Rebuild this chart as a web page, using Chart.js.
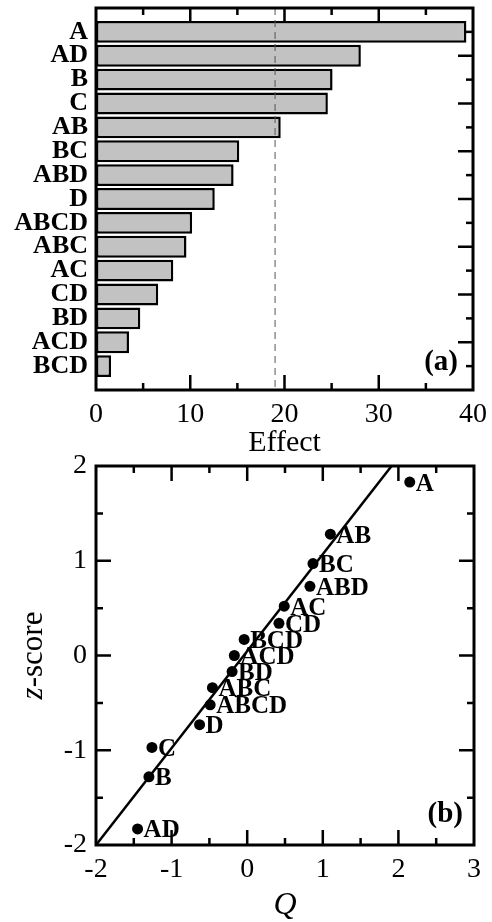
<!DOCTYPE html>
<html>
<head>
<meta charset="utf-8">
<script src="https://cdn.jsdelivr.net/npm/chart.js@4/dist/chart.umd.min.js"></script>
<style>
  html, body { margin: 0; padding: 0; background: #fff; }
  .box { position: absolute; left: 0; width: 492px; }
  #top { top: 0; height: 460px; }
  #bottom { top: 440px; height: 482px; }
</style>
</head>
<body>
<div class="box" id="top"><canvas id="effects"></canvas></div>
<div class="box" id="bottom"><canvas id="normal"></canvas></div>
<script>
// (a) effect sizes, largest first
const effectNames = ['A', 'AD', 'B', 'C', 'AB', 'BC', 'ABD', 'D', 'ABCD', 'ABC', 'AC', 'CD', 'BD', 'ACD', 'BCD']
const effectValues = [39.3, 28.1, 25.1, 24.6, 19.6, 15.2, 14.6, 12.6, 10.2, 9.6, 8.2, 6.6, 4.7, 3.5, 1.6]
const threshold = 19

// (b) normal probability plot
const pointNames = ['A', 'AB', 'BC', 'ABD', 'AC', 'CD', 'BCD', 'ACD', 'BD', 'ABC', 'ABCD', 'D', 'C', 'B', 'AD']
const qValues = [2.15, 1.10, 0.87, 0.83, 0.49, 0.42, -0.04, -0.17, -0.20, -0.46, -0.49, -0.63, -1.26, -1.30, -1.45]
const zScores = [1.83, 1.28, 0.97, 0.73, 0.52, 0.34, 0.17, 0, -0.17, -0.34, -0.52, -0.73, -0.97, -1.28, -1.83]
const fitQ = [-2, 1.91]
const fitZ = [-2, 2]

const serif = 'Liberation Serif'
const tickFont = { family: serif, size: 28 }

// inward tick marks, drawn from the chart's own scales
const drawTicks = (chart, cfg) => {
  const { ctx, chartArea: a, scales } = chart
  ctx.save()
  ctx.strokeStyle = '#000'
  ctx.lineWidth = 2.5
  cfg.forEach(({ id, major, minor, sides }) => {
    const s = scales[id]
    for (let v = s.min + minor; v < s.max - 1e-9; v += minor) {
      const r = Math.round(v * 1000) / 1000
      const len = Math.abs(r / major - Math.round(r / major)) < 1e-6 ? 15 : 7
      const p = s.getPixelForValue(r)
      ctx.beginPath()
      sides.forEach(side => {
        if (side === 'bottom') { ctx.moveTo(p, a.bottom); ctx.lineTo(p, a.bottom - len) }
        if (side === 'top') { ctx.moveTo(p, a.top); ctx.lineTo(p, a.top + len) }
        if (side === 'left') { ctx.moveTo(a.left, p); ctx.lineTo(a.left + len, p) }
        if (side === 'right') { ctx.moveTo(a.right, p); ctx.lineTo(a.right - len, p) }
      })
      ctx.stroke()
    }
  })
  ctx.restore()
}

const drawFrame = (chart) => {
  const { ctx, chartArea: a } = chart
  ctx.save()
  ctx.strokeStyle = '#000'
  ctx.lineWidth = 3
  ctx.strokeRect(a.left, a.top, a.right - a.left, a.bottom - a.top)
  ctx.restore()
}

const panelLabel = (chart, text, dx, dy) => {
  const { ctx, chartArea: a } = chart
  ctx.save()
  ctx.font = 'bold 29px ' + serif
  ctx.fillStyle = '#000'
  ctx.textAlign = 'right'
  ctx.textBaseline = 'alphabetic'
  ctx.fillText(text, a.right - dx, a.bottom - dy)
  ctx.restore()
}

// keep the plot box where the figure has it, not where the labels push it
const fixBox = (size) => (scale) => {
  if (scale.isHorizontal()) scale.height = size
  else scale.width = size
  scale.paddingTop = 0
  scale.paddingBottom = 0
  scale.paddingLeft = 0
  scale.paddingRight = 0
}

const effectPlugin = {
  id: 'effectFrame',
  beforeDatasetsDraw (chart) {
    drawTicks(chart, [
      { id: 'x', major: 10, minor: 5, sides: ['top', 'bottom'] },
      { id: 'y', major: 2, minor: 1, sides: ['right'] }
    ])
  },
  afterDatasetsDraw (chart) {
    const { ctx, chartArea: a, scales } = chart
    const px = scales.x.getPixelForValue(threshold)
    ctx.save()
    ctx.strokeStyle = '#555'
    ctx.lineWidth = 1
    ctx.setLineDash([7, 5])
    ctx.beginPath()
    ctx.moveTo(px, a.top)
    ctx.lineTo(px, a.bottom)
    ctx.stroke()
    ctx.restore()
    drawFrame(chart)
  },
  afterDraw (chart) {
    panelLabel(chart, '(a)', 15, 20)
  }
}

new Chart(document.getElementById('effects'), {
  type: 'bar',
  data: {
    datasets: [{
      data: effectValues.map((v, i) => ({ x: v, y: i + 1 })),
      backgroundColor: '#c2c2c2',
      borderColor: '#000',
      borderWidth: 2.5,
      borderSkipped: false,
      categoryPercentage: 1,
      barPercentage: 0.92
    }]
  },
  options: {
    indexAxis: 'y',
    responsive: true,
    maintainAspectRatio: false,
    animation: false,
    layout: { padding: { top: 8, right: 19, left: 0, bottom: 0 } },
    plugins: { legend: { display: false }, tooltip: { enabled: false } },
    scales: {
      x: {
        type: 'linear',
        min: 0,
        max: 40,
        grid: { display: false, drawTicks: false },
        border: { display: false },
        ticks: { stepSize: 10, color: '#000', font: tickFont, padding: 8, maxRotation: 0 },
        title: { display: true, text: 'Effect', color: '#000', font: { family: serif, size: 30, lineHeight: 1.1 }, padding: 0 },
        afterFit: fixBox(70)
      },
      y: {
        type: 'linear',
        min: 0,
        max: 16,
        offset: false,
        reverse: true,
        grid: { display: false, drawTicks: false },
        border: { display: false },
        ticks: {
          stepSize: 1,
          autoSkip: false,
          color: '#000',
          padding: 8,
          font: { family: serif, size: 26, weight: 'bold' },
          callback: (v) => effectNames[v - 1] || ''
        },
        afterFit: fixBox(96)
      }
    }
  },
  plugins: [effectPlugin]
})

const normalPlugin = {
  id: 'normalFrame',
  beforeDatasetsDraw (chart) {
    drawTicks(chart, [
      { id: 'x', major: 1, minor: 0.5, sides: ['top', 'bottom'] },
      { id: 'y', major: 1, minor: 0.5, sides: ['left', 'right'] }
    ])
  },
  afterDatasetsDraw (chart) {
    const { ctx } = chart
    const meta = chart.getDatasetMeta(0)
    ctx.save()
    ctx.font = 'bold 25px ' + serif
    ctx.fillStyle = '#000'
    ctx.textAlign = 'left'
    ctx.textBaseline = 'middle'
    meta.data.forEach((pt, i) => {
      ctx.fillText(pointNames[i], pt.x + 6, pt.y + 2)
    })
    ctx.restore()
    drawFrame(chart)
  },
  afterDraw (chart) {
    const { ctx, chartArea: a } = chart
    panelLabel(chart, '(b)', 11, 23)
    // y title: italic z, upright -score
    ctx.save()
    ctx.fillStyle = '#000'
    ctx.translate(a.left - 54, (a.top + a.bottom) / 2)
    ctx.rotate(-Math.PI / 2)
    ctx.textBaseline = 'alphabetic'
    ctx.font = 'italic 31px ' + serif
    const wz = ctx.measureText('z').width
    ctx.font = '31px ' + serif
    const ws = ctx.measureText('-score').width
    const x0 = -(wz + ws) / 2
    ctx.font = 'italic 31px ' + serif
    ctx.fillText('z', x0, 0)
    ctx.font = '31px ' + serif
    ctx.fillText('-score', x0 + wz, 0)
    ctx.restore()
  }
}

new Chart(document.getElementById('normal'), {
  type: 'scatter',
  data: {
    datasets: [{
      data: qValues.map((q, i) => ({ x: q, y: zScores[i] })),
      pointRadius: 5.5,
      pointBackgroundColor: '#000',
      pointBorderColor: '#000',
      pointBorderWidth: 0
    }, {
      type: 'line',
      data: fitQ.map((q, i) => ({ x: q, y: fitZ[i] })),
      borderColor: '#000',
      borderWidth: 2.5,
      pointRadius: 0,
      fill: false
    }]
  },
  options: {
    responsive: true,
    maintainAspectRatio: false,
    animation: false,
    layout: { padding: { top: 26, right: 18, left: 0, bottom: 0 } },
    plugins: { legend: { display: false }, tooltip: { enabled: false } },
    scales: {
      x: {
        type: 'linear',
        min: -2,
        max: 3,
        grid: { display: false, drawTicks: false },
        border: { display: false },
        ticks: { stepSize: 1, color: '#000', font: tickFont, padding: 8, maxRotation: 0 },
        title: { display: true, text: 'Q', color: '#000', font: { family: serif, size: 32, style: 'italic', lineHeight: 1 }, padding: 0 },
        afterFit: fixBox(77)
      },
      y: {
        type: 'linear',
        min: -2,
        max: 2,
        grid: { display: false, drawTicks: false },
        border: { display: false },
        ticks: { stepSize: 1, color: '#000', font: tickFont, padding: 9 },
        afterFit: fixBox(96)
      }
    }
  },
  plugins: [normalPlugin]
})
</script>
</body>
</html>
